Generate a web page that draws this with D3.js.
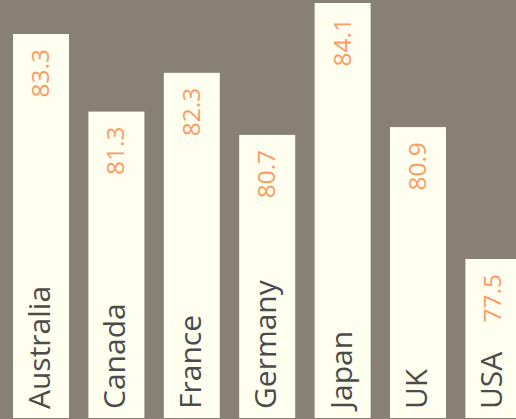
<!DOCTYPE html>
<html>
<head>
<meta charset="utf-8">
<script src="https://cdn.jsdelivr.net/npm/d3@7"></script>
<style>
  html, body { margin: 0; padding: 0; background: #878073; overflow: hidden; }
  svg { display: block; }
</style>
</head>
<body>
<svg id="chart" width="516" height="419"></svg>
<script>
// Life expectancy at birth (years) by country
const countries = ["Australia", "Canada", "France", "Germany", "Japan", "UK", "USA"];
const lifeExpectancy = [83.3, 81.3, 82.3, 80.7, 84.1, 80.9, 77.5];
const valueLabels = ["83.3", "81.3", "82.3", "80.7", "84.1", "80.9", "77.5"];

const width = 516, height = 419;
const baseline = 418;

const svg = d3.select("#chart");

svg.append("rect")
  .attr("width", width)
  .attr("height", height)
  .attr("fill", "#878073");

const x = d3.scaleBand()
  .domain(countries)
  .range([0, 534.4])
  .paddingInner(0.2573)
  .paddingOuter(0.1724);

const y = d3.scaleLinear()
  .domain([73.4, 84.1])
  .range([baseline, 3]);

const rows = countries.map((c, i) => ({ country: c, value: lifeExpectancy[i], label: valueLabels[i] }));

const g = svg.append("g");

g.selectAll("rect.bar")
  .data(rows)
  .join("rect")
  .attr("class", "bar")
  .attr("x", d => x(d.country))
  .attr("y", d => y(d.value))
  .attr("width", x.bandwidth())
  .attr("height", d => baseline - y(d.value))
  .attr("fill", "#fffff0");

// value labels, reading upward just below each bar top
g.selectAll("text.value")
  .data(rows)
  .join("text")
  .attr("class", "value")
  .attr("transform", d => `translate(${x(d.country) + x.bandwidth() / 2 + 8},${y(d.value) + 15}) rotate(-90)`)
  .attr("text-anchor", "end")
  .attr("font-family", "'Open Sans', sans-serif")
  .attr("font-size", 24.5)
  .attr("fill", "#fd9a62")
  .text(d => d.label);

// country names along the bottom of each bar
g.selectAll("text.country")
  .data(rows)
  .join("text")
  .attr("class", "country")
  .attr("transform", d => `translate(${x(d.country) + x.bandwidth() / 2 + 9},${baseline - 9}) rotate(-90)`)
  .attr("text-anchor", "start")
  .attr("font-family", "'Open Sans', sans-serif")
  .attr("font-size", 30)
  .attr("fill", "#4b4b4b")
  .text(d => d.country);
</script>
</body>
</html>
